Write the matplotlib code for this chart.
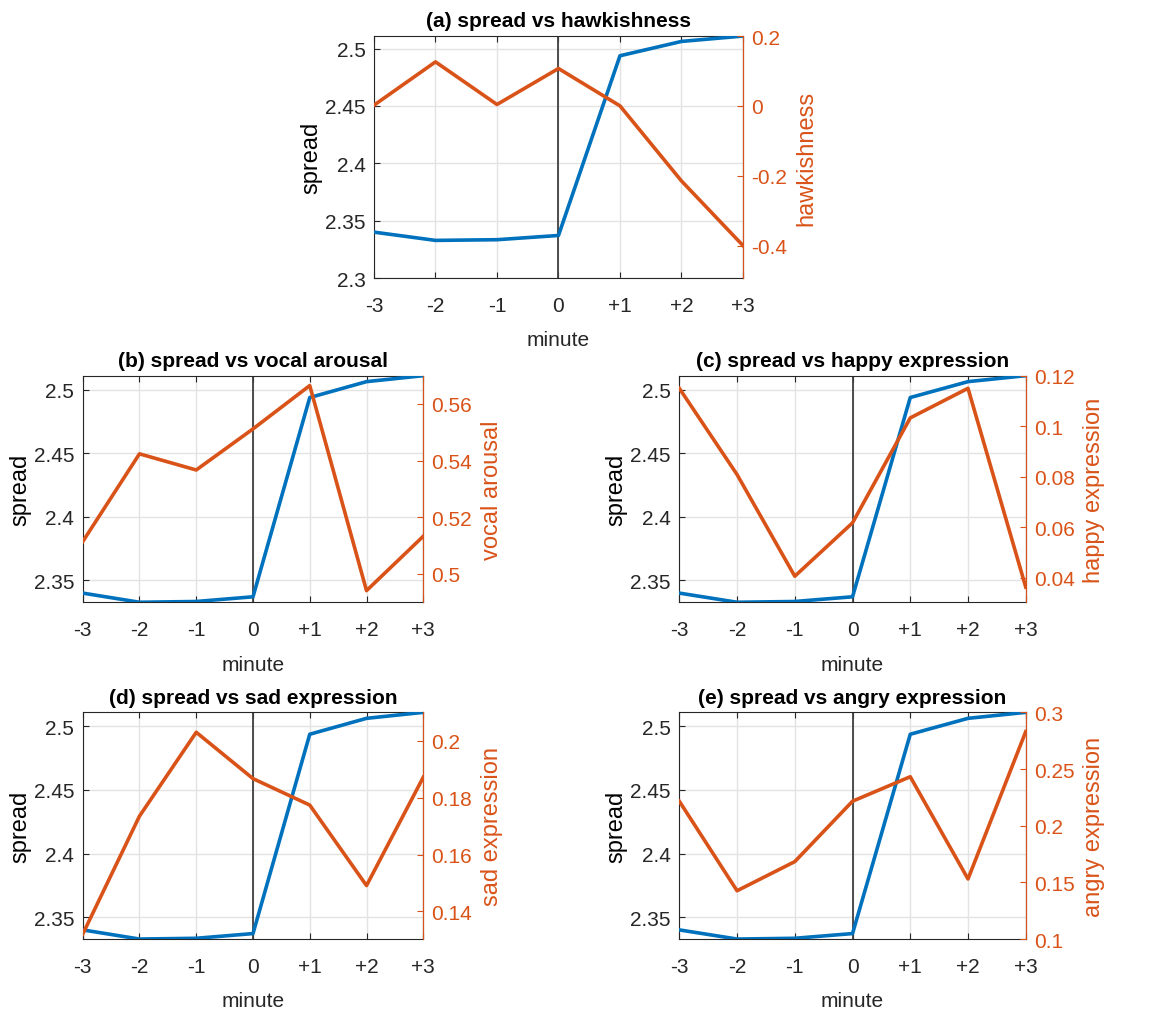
"""spread と各指標の比較 (MATLAB yyaxis 風)"""

import matplotlib
matplotlib.use("Agg")
import matplotlib.pyplot as plt
from matplotlib.ticker import MultipleLocator, FormatStrFormatter

plt.rcParams["font.family"] = ["Liberation Sans", "DejaVu Sans"]

# データ
minutes = [-3, -2, -1, 0, 1, 2, 3]
minute_labels = ["-3", "-2", "-1", "0", "+1", "+2", "+3"]
spread = [2.3400, 2.3328, 2.3334, 2.3371, 2.4938, 2.5063, 2.5110]

hawkishness = [0.002, 0.126, 0.004, 0.107, 0.0, -0.215, -0.400]
vocal_arousal = [0.5114, 0.5424, 0.5367, 0.5512, 0.5665, 0.4941, 0.5133]
happy_expression = [0.1150, 0.0809, 0.0407, 0.0618, 0.1033, 0.1150, 0.0364]
sad_expression = [0.1320, 0.1735, 0.2030, 0.1867, 0.1774, 0.1491, 0.1872]
angry_expression = [0.2216, 0.1426, 0.1683, 0.2216, 0.2432, 0.1530, 0.2830]

BLUE = "#0072BD"
ORANGE = "#D95319"
DARK = "#262626"

panels = [
    # (タイトル, 右軸ラベル, 値, 軸位置, 左軸範囲, 右軸範囲, 右目盛間隔)
    ("(a) spread vs hawkishness", "hawkishness", hawkishness,
     [0.3202, 0.7243, 0.3159, 0.2391], (2.3, 2.511), (-0.493, 0.2), 0.2),
    ("(b) spread vs vocal arousal", "vocal arousal", vocal_arousal,
     [0.0708, 0.4039, 0.2916, 0.2239], (2.3328, 2.511), (0.49, 0.57), 0.02),
    ("(c) spread vs happy expression", "happy expression", happy_expression,
     [0.5816, 0.4039, 0.2966, 0.2239], (2.3328, 2.511), (0.0304, 0.12), 0.02),
    ("(d) spread vs sad expression", "sad expression", sad_expression,
     [0.0708, 0.0711, 0.2916, 0.2240], (2.3328, 2.511), (0.1303, 0.21), 0.02),
    ("(e) spread vs angry expression", "angry expression", angry_expression,
     [0.5816, 0.0711, 0.2966, 0.2240], (2.3328, 2.511), (0.1, 0.3), 0.05),
]

fig = plt.figure(figsize=(11.68, 10.12), dpi=100)

for title, rlabel, values, pos, lylim, rylim, rstep in panels:
    ax = fig.add_axes(pos)
    ax.plot(minutes, spread, color=BLUE, lw=2.6, zorder=3)
    ax.axvline(0, color="#404040", lw=1.3, zorder=2)
    ax.set_xlim(-3, 3)
    ax.set_ylim(*lylim)
    ax.set_xticks(minutes)
    ax.set_xticklabels(minute_labels)
    ax.yaxis.set_major_locator(MultipleLocator(0.05))
    ax.yaxis.set_major_formatter(FormatStrFormatter("%g"))
    ax.grid(True, color="#e3e3e3", lw=1.0, zorder=0)
    ax.set_axisbelow(True)
    ax.tick_params(direction="in", length=4, labelsize=15, colors=DARK,
                   top=True, width=0.8)
    ax.tick_params(axis="x", pad=13)
    ax.tick_params(axis="y", pad=6)
    for s in ["left", "bottom", "top"]:
        ax.spines[s].set_color(DARK)
    ax.set_xlabel("minute", fontsize=15, color=DARK, labelpad=11)
    ax.set_ylabel("spread", fontsize=17, color="black", labelpad=2)
    ax.set_title(title, fontsize=15, fontweight="bold", pad=7)

    ax2 = ax.twinx()
    ax2.plot(minutes, values, color=ORANGE, lw=2.6, zorder=3)
    ax2.set_ylim(*rylim)
    ax2.yaxis.set_major_locator(MultipleLocator(rstep))
    ax2.yaxis.set_major_formatter(FormatStrFormatter("%g"))
    ax2.tick_params(direction="in", length=4, labelsize=15, colors=ORANGE,
                    width=0.8, pad=6)
    ax2.spines["right"].set_color(ORANGE)
    ax2.spines["left"].set_visible(False)
    ax2.spines["top"].set_visible(False)
    ax2.spines["bottom"].set_visible(False)
    ax2.set_ylabel(rlabel, fontsize=17, color=ORANGE, labelpad=6)

plt.savefig("out.png", dpi=100)
